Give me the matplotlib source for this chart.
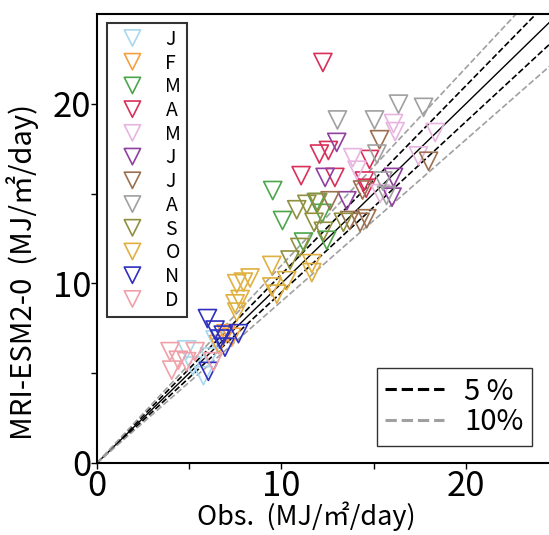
import numpy as np
import matplotlib.pyplot as plt
from matplotlib.lines import Line2D

plt.rcParams['font.family'] = ['Noto Sans CJK JP', 'DejaVu Sans']

months = ['J', 'F', 'M', 'A', 'M', 'J', 'J', 'A', 'S', 'O', 'N', 'D']
colors = ['#a8d8ee', '#f5a040', '#4ca64c', '#d9305a', '#e8b4e0', '#9040a0',
          '#9b7050', '#a0a0a0', '#909040', '#e0b040', '#3030c0', '#f0a0a8']

obs = [
    [4.86, 5.77, 6.40, 5.2, 6.1],                                  # Jan
    [7.0, 7.3, 6.6],                                                # Feb
    [9.53, 10.06, 11.9, 12.2, 12.46, 11.2],                          # Mar
    [12.25, 12.06, 12.55, 11.07, 12.9, 14.78, 14.5, 14.6],           # Apr
    [13.87, 16.08, 16.17, 18.34, 14.1, 15.35, 17.43],                # May
    [13.0, 12.37, 13.55, 16.08, 16.0],                               # Jun
    [15.32, 17.98, 12.64, 14.4, 14.27, 14.63, 13.7],                 # Jul
    [16.35, 17.71, 13.04, 15.05, 15.18, 15.5, 15.7],                 # Aug
    [10.83, 11.38, 11.97, 11.77, 12.28, 11.0, 10.47, 13.36],         # Sep
    [9.48, 8.3, 7.58, 7.94, 7.76, 7.49, 7.58, 9.48, 9.75, 11.65, 11.65, 10.29],  # Oct
    [5.99, 6.4, 6.85, 6.67, 6.94, 7.67, 6.04],                       # Nov
    [3.96, 4.41, 4.05, 5.32, 4.86, 6.31],                            # Dec
]
mod = [
    [6.3, 4.86, 6.85, 5.4, 5.9],
    [7.2, 7.0, 6.6],
    [15.17, 13.5, 14.5, 13.9, 12.4, 12.3],
    [22.3, 17.2, 17.4, 16.0, 15.9, 16.9, 15.7, 15.3],
    [17.0, 18.9, 18.45, 18.4, 16.3, 15.0, 17.1],
    [17.85, 15.9, 14.6, 15.9, 14.8],
    [18.0, 16.8, 14.6, 15.2, 13.4, 13.6, 13.5],
    [19.98, 19.8, 19.1, 19.1, 17.2, 15.7, 14.9],
    [14.1, 14.4, 14.5, 13.4, 12.9, 12.0, 11.3, 13.4],
    [11.0, 10.3, 9.98, 10.07, 9.1, 8.86, 8.4, 9.8, 9.4, 11.1, 10.6, 10.15],
    [8.04, 7.4, 7.12, 6.9, 6.45, 7.2, 5.1],
    [6.2, 5.72, 5.17, 6.2, 5.64, 5.64],
]

fig = plt.figure(figsize=(5.49, 5.35), dpi=100)
ax = fig.add_axes([97 / 549, 72 / 535, 461 / 549, 449 / 535])

handles = []
for i in range(12):
    h = ax.scatter(obs[i], mod[i], marker='v', s=170, facecolors='none',
                   edgecolors=colors[i], linewidths=1.2, label=months[i], zorder=3)
    handles.append(h)

xx = np.array([0, 30])
ax.plot(xx, xx, color='black', lw=1)
ax.plot(xx, xx * 1.05, '--', color='black', lw=1.2)
ax.plot(xx, xx * 0.95, '--', color='black', lw=1.2)
ax.plot(xx, xx * 1.1, '--', color='#a0a0a0', lw=1.2)
ax.plot(xx, xx * 0.9, '--', color='#a0a0a0', lw=1.2)

ax.set_xlim(0, 25)
ax.set_ylim(0, 25)
ax.set_xticks([0, 10, 20])
ax.set_yticks([0, 10, 20])
ax.set_xticks([5, 15], minor=True)
ax.set_yticks([5, 15], minor=True)
ax.tick_params(labelsize=25, length=4, width=1, pad=0)
ax.tick_params(which='minor', length=4, width=1)
for s in ax.spines.values():
    s.set_linewidth(1.5)

ax.set_xlabel('Obs.  (MJ/㎡/day)', fontsize=19.5)
ax.set_ylabel('MRI-ESM2-0  (MJ/㎡/day)', fontsize=21)
ax.xaxis.set_label_coords(0.455, -0.086)
ax.yaxis.set_label_coords(-0.125, 0.425)

leg1 = ax.legend(handles=handles, loc='upper left', bbox_to_anchor=(0.022, 0.98),
                 fontsize=14, frameon=True, fancybox=False, edgecolor='black',
                 handletextpad=0.7, labelspacing=0.14, borderpad=0.3,
                 borderaxespad=0, scatteryoffsets=[0.5], markerscale=0.9)
leg1.get_frame().set_linewidth(1.5)
ax.add_artist(leg1)

proxies = [Line2D([], [], ls='--', color='black', lw=2.2),
           Line2D([], [], ls='--', color='#a0a0a0', lw=2.2)]
leg2 = ax.legend(proxies, ['5 %', '10%'], loc='lower right',
                 bbox_to_anchor=(0.944, 0.038),
                 fontsize=21, frameon=True, fancybox=False, edgecolor='black',
                 handlelength=2.0, labelspacing=0.02, borderpad=0.3,
                 handletextpad=0.7, borderaxespad=0)
leg2.get_frame().set_linewidth(1.0)

fig.savefig('out.png', dpi=100)
